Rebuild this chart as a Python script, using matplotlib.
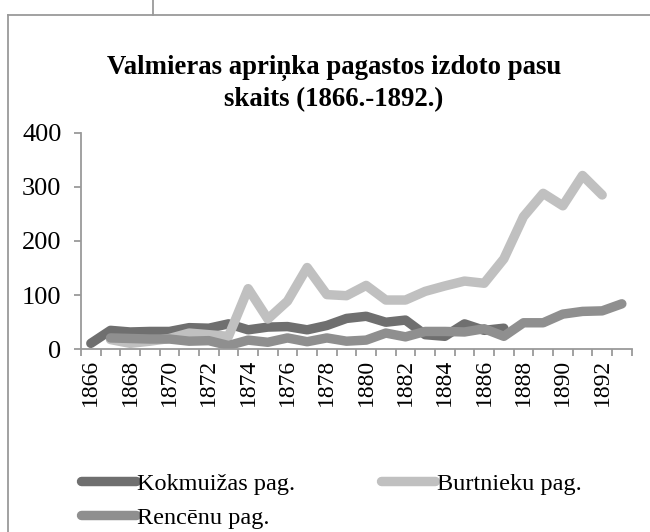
import matplotlib.pyplot as plt
from matplotlib.lines import Line2D
import numpy as np

years = list(range(1866, 1894))

kokmuizas = [11, 35, 32, 33, 33, 40, 39, 47, 36, 41, 42, 36, 44, 57,
             61, 50, 54, 27, 24, 47, 35, 39]
burtnieku = [18, 11, 15, 20, 30, 27, 24, 112, 56, 89, 151, 101, 99, 118,
             91, 91, 107, 117, 126, 122, 167, 245, 288, 265, 321, 285]
rencenu = [21, 20, 19, 19, 15, 16, 7, 17, 13, 21, 14, 21, 15, 17,
           30, 23, 33, 33, 32, 38, 24, 49, 49, 65, 70, 71, 84]

series = [
    ("Kokmuižas pag.", kokmuizas, 0, "#6f6f6f"),
    ("Burtnieku pag.", burtnieku, 1, "#c0c0c0"),
    ("Rencēnu pag.", rencenu, 1, "#8f8f8f"),
]

title = "Valmieras apriņka pagastos izdoto pasu\nskaits (1866.-1892.)"
y_ticks = [0, 100, 200, 300, 400]

plt.rcParams["font.family"] = ["Liberation Serif", "DejaVu Serif"]
axis_color = "#9a9a9a"

fig = plt.figure(figsize=(6.5, 5.32), dpi=100)
ax = fig.add_axes([0.1246, 0.3434, 0.8472, 0.4072])

handles = {}
for name, values, start, color in series:
    x = np.arange(start, start + len(values))
    (line,) = ax.plot(x, values, color=color, lw=6.8,
                      solid_capstyle="round", solid_joinstyle="round")
    handles[name] = line

ax.set_xlim(-0.5, len(years) - 0.5)
ax.set_ylim(0, 400)
ax.set_yticks(y_ticks)
ax.set_yticklabels([str(v) for v in y_ticks], fontsize=19)

label_pos = list(range(0, 27, 2))
ax.set_xticks(label_pos)
ax.set_xticklabels([str(years[i]) for i in label_pos], rotation=90,
                   fontsize=17)
ax.set_xticks(np.arange(-0.5, len(years), 1), minor=True)
ax.tick_params(axis="x", which="major", length=0, pad=7)
ax.tick_params(axis="x", which="minor", length=5, width=1.3,
               color=axis_color)
ax.tick_params(axis="y", length=5, width=1.3, color=axis_color, pad=9)

for side in ("top", "right"):
    ax.spines[side].set_visible(False)
for side in ("left", "bottom"):
    ax.spines[side].set_color(axis_color)
    ax.spines[side].set_linewidth(1.3)

fig.text(0.514, 0.843, title, ha="center", va="center", fontsize=19.3,
         fontweight="bold", linespacing=1.3)

# Excel fills the legend row by row
order = ["Kokmuižas pag.", "Rencēnu pag.", "Burtnieku pag."]
legend_handles = [Line2D([], [], color=handles[n].get_color(), lw=6.8,
                         solid_capstyle="round") for n in order]
fig.legend(legend_handles, order, ncol=2, frameon=False, fontsize=17.5,
           loc="upper left", bbox_to_anchor=(0.11, 0.13),
           handlelength=2.26, handletextpad=0.05, columnspacing=3.5,
           labelspacing=0.5, borderaxespad=0)

# outer chart frame
fig.add_artist(Line2D([0.0125, 0.0125], [0, 0.971], color=axis_color,
                      lw=1.3, transform=fig.transFigure))
fig.add_artist(Line2D([0.0125, 1.0], [0.971, 0.971], color=axis_color,
                      lw=1.3, transform=fig.transFigure))
fig.add_artist(Line2D([0.235, 0.235], [0.971, 1.0], color=axis_color,
                      lw=1.3, transform=fig.transFigure))

fig.savefig("out.png", dpi=100)
